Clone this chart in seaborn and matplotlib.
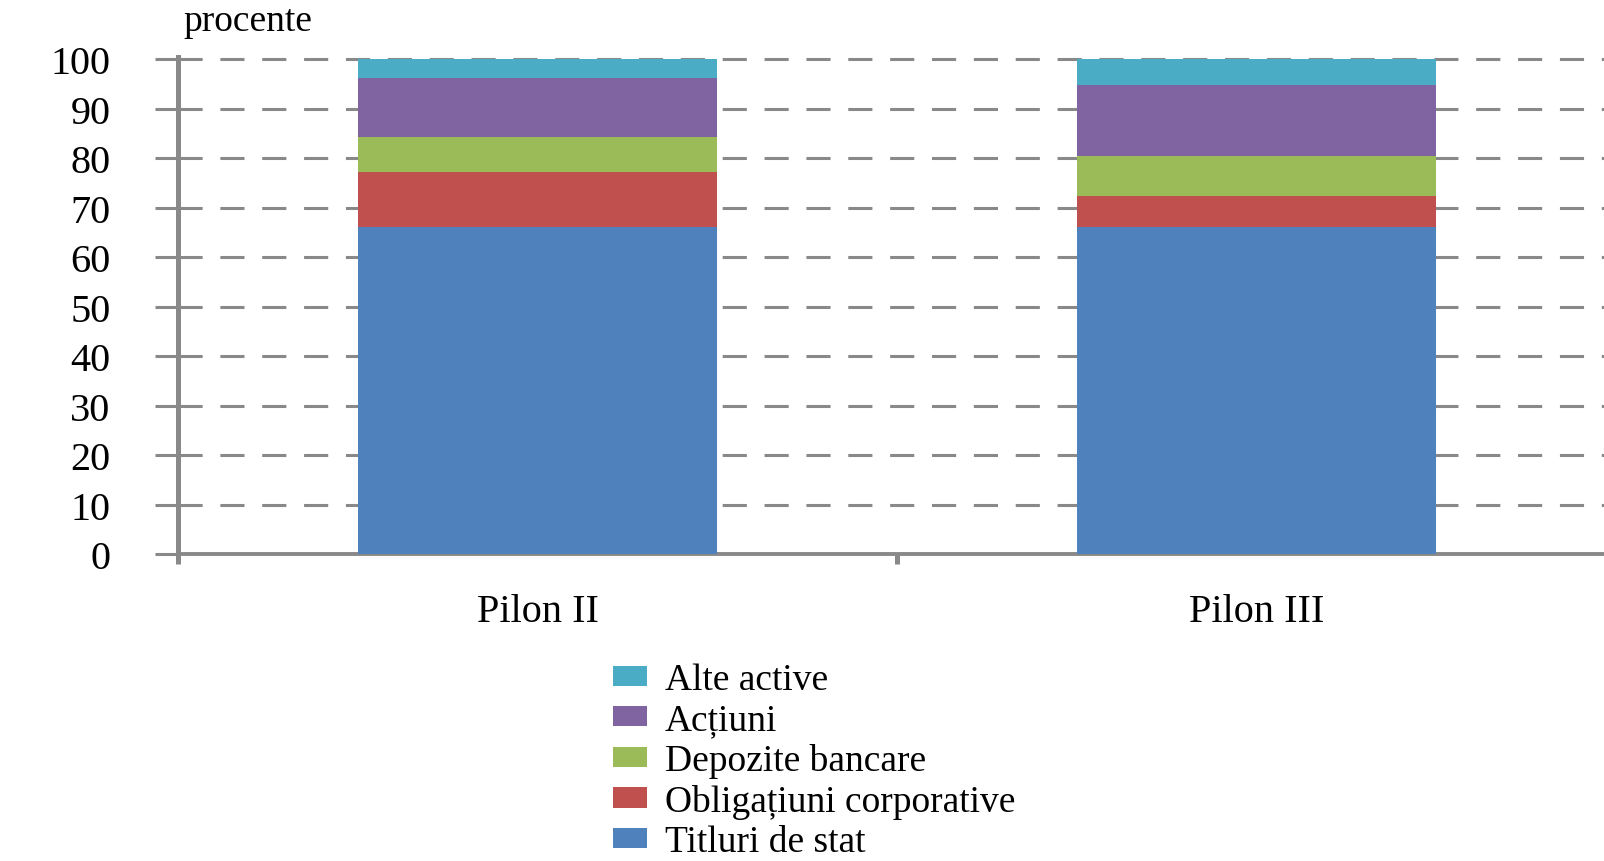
import numpy as np
import pandas as pd
import seaborn as sns
import matplotlib.pyplot as plt

# --- DATA (percent of portfolio) ---
categories = ["Pilon II", "Pilon III"]
titluri_de_stat = [66.1, 66.1]
obligatiuni_corporative = [11.1, 6.4]
depozite_bancare = [7.2, 7.9]
actiuni = [11.8, 14.5]
alte_active = [3.8, 5.1]

series_names = ["Titluri de stat", "Obligațiuni corporative", "Depozite bancare",
                "Acțiuni", "Alte active"]
series_values = [titluri_de_stat, obligatiuni_corporative, depozite_bancare,
                 actiuni, alte_active]
colors = ["#4F81BD", "#C0504D", "#9BBB59", "#8064A2", "#4BACC6"]
GRAY = "#898989"

sns.set_style("white")
plt.rcParams["font.family"] = ["Liberation Serif", "DejaVu Serif"]
plt.rcParams["text.color"] = "black"
plt.rcParams["xtick.color"] = "black"
plt.rcParams["ytick.color"] = "black"

fig = plt.figure(figsize=(16.04, 8.62), dpi=100)
ax = fig.add_axes([178 / 1604, 1 - 555.3 / 862, (1616 - 178) / 1604, 497.3 / 862])

# stacked bars: draw cumulative totals from the top layer down
df = pd.DataFrame({name: vals for name, vals in zip(series_names, series_values)},
                  index=categories)
cum = df.cumsum(axis=1)
for name, col in reversed(list(zip(series_names, colors))):
    sns.barplot(x=categories, y=cum[name].values, color=col, saturation=1,
                width=0.5, label=name, linewidth=0, ax=ax, zorder=3)

ax.set_xlim(-0.5, 1.5)
ax.set_ylim(0, 100.5)
ax.set_yticks(np.arange(0, 101, 10))
ax.set_xlabel("")
ax.set_ylabel("")

# grid + axes styling
ax.set_axisbelow(True)
ax.yaxis.grid(True, color=GRAY, linewidth=2.2, linestyle=(0, (7.9, 5.8)))
ax.xaxis.grid(False)
for side in ["top", "right"]:
    ax.spines[side].set_visible(False)
ax.spines["left"].set_color(GRAY)
ax.spines["left"].set_linewidth(3.6)
ax.spines["bottom"].set_color(GRAY)
ax.spines["bottom"].set_linewidth(2.8)

ax.tick_params(axis="y", which="major", direction="out", length=16.5, width=2.2,
               color=GRAY, labelcolor="black", pad=32, labelsize=29, left=True)
ax.set_xticks([0, 1])
ax.set_xticklabels(categories)
ax.set_xticks([-0.5, 0.5, 1.5], minor=True)
ax.tick_params(axis="x", which="major", length=0, pad=28, labelsize=29,
               labelcolor="black")
ax.tick_params(axis="x", which="minor", direction="out", length=7, width=3.6,
               color=GRAY, bottom=True)

fig.text(183 / 1604, 1 - 22 / 862, "procente", fontsize=27, ha="left", va="center")

ax.legend(loc="upper left", bbox_to_anchor=(613 / 1604, 1 - 664 / 862),
          bbox_transform=fig.transFigure, frameon=False, fontsize=27,
          handlelength=0.9, handleheight=0.45, handletextpad=0.48,
          labelspacing=0.15, borderpad=0, borderaxespad=0)

fig.savefig("out.png", dpi=100)
